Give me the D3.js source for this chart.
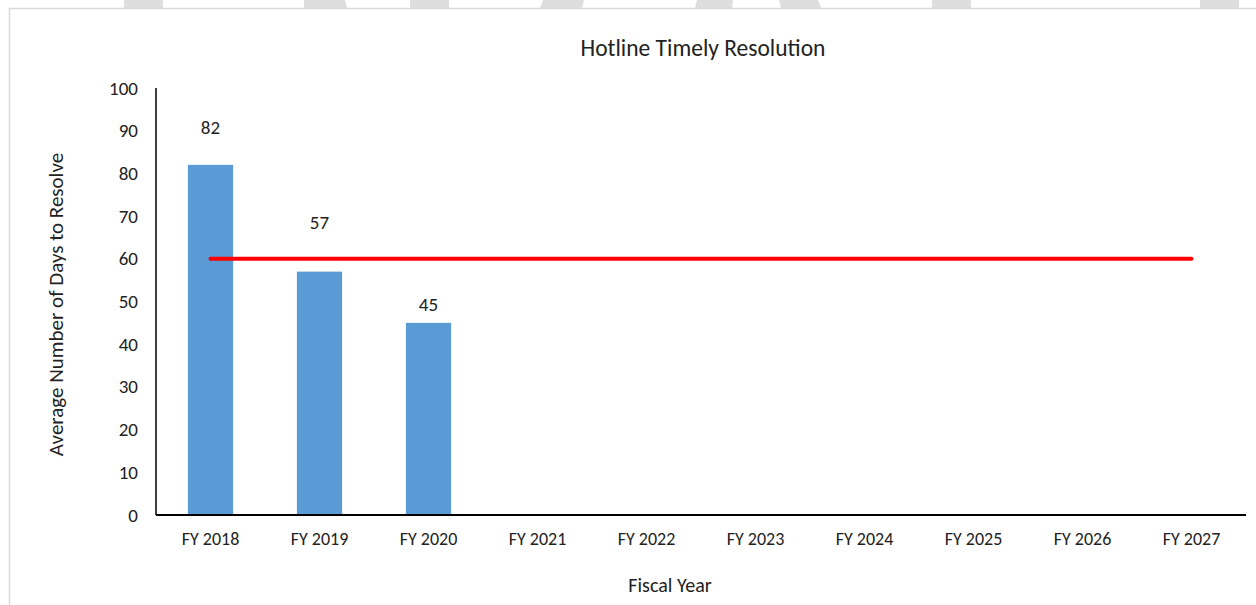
<!DOCTYPE html>
<html>
<head>
<meta charset="utf-8">
<script src="https://cdn.jsdelivr.net/npm/d3@7"></script>
<style>
  html, body { margin: 0; padding: 0; background: #fff; }
  svg { display: block; }
  text { font-family: Carlito, Calibri, Lato, "Open Sans", sans-serif; fill: #222; }
</style>
</head>
<body>
<svg id="chart" width="1256" height="605"></svg>
<script>
// Fiscal years on the category axis
const categories = ["FY 2018", "FY 2019", "FY 2020", "FY 2021", "FY 2022",
                    "FY 2023", "FY 2024", "FY 2025", "FY 2026", "FY 2027"];
// Average number of days to resolve a hotline case (only reported years)
const avgDays = [82, 57, 45, null, null, null, null, null, null, null];
// Target line across every fiscal year
const targetDays = [60, 60, 60, 60, 60, 60, 60, 60, 60, 60];
// Value axis ticks
const yTicks = [0, 10, 20, 30, 40, 50, 60, 70, 80, 90, 100];

const svg = d3.select("#chart");
const W = 1256, H = 605;

// Banner strip of light grey blocks along the very top edge
const banner = [
  [[124, 0], [163, 0], [163, 8], [124, 8]],
  [[304, 0], [345, 0], [347, 8], [304, 8]],
  [[410, 0], [449, 0], [449, 8], [410, 8]],
  [[543, 0], [584, 0], [582, 8], [540, 8]],
  [[697, 0], [733, 0], [732, 8], [695, 8]],
  [[779, 0], [818, 0], [821, 8], [781, 8]],
  [[932, 0], [971, 0], [971, 8], [932, 8]],
  [[1200, 0], [1239, 0], [1239, 8], [1200, 8]]
];
svg.selectAll("polygon.banner").data(banner).join("polygon")
  .attr("class", "banner")
  .attr("points", d => d.map(p => p.join(",")).join(" "))
  .attr("fill", "#dedede");

// Chart frame (top and left edges visible)
svg.append("path")
  .attr("d", `M9.5,${H} L9.5,8.5 L${W},8.5`)
  .attr("fill", "none")
  .attr("stroke", "#d9d9d9")
  .attr("stroke-width", 1.5);

const plot = { left: 156, right: 1246, top: 88, bottom: 515 };

const x = d3.scaleBand()
  .domain(categories)
  .range([plot.left, plot.right])
  .paddingInner(0.585)
  .paddingOuter(0.2925);

const xc = d3.scalePoint()
  .domain(categories)
  .range([plot.left, plot.right])
  .padding(0.5);

const y = d3.scaleLinear()
  .domain([0, 100])
  .range([plot.bottom, plot.top]);

// Title
svg.append("text")
  .attr("x", 703).attr("y", 56)
  .attr("text-anchor", "middle")
  .style("font-size", "23.5px")
  .text("Hotline Timely Resolution");

// Y axis labels
const yAxis = d3.axisLeft(y).tickValues(yTicks).tickSize(0).tickPadding(18);
const gy = svg.append("g").attr("transform", `translate(${plot.left},0)`).call(yAxis);
gy.select(".domain").remove();
gy.selectAll("text").style("font-size", "19px").attr("fill", "#222");

// X axis labels
const xAxis = d3.axisBottom(x).tickSize(0).tickPadding(17);
const gx = svg.append("g").attr("transform", `translate(0,${plot.bottom})`).call(xAxis);
gx.select(".domain").remove();
gx.selectAll("text").style("font-size", "18px").attr("fill", "#222");

// Bars
const barData = categories.map((c, i) => ({ cat: c, v: avgDays[i] })).filter(d => d.v != null);
svg.selectAll("rect.bar").data(barData).join("rect")
  .attr("class", "bar")
  .attr("x", d => x(d.cat))
  .attr("y", d => y(d.v))
  .attr("width", x.bandwidth())
  .attr("height", d => y(0) - y(d.v))
  .attr("fill", "#5b9bd5");

// Value labels, lifted clear of the target line
const labelLift = [31, 43, 12];
svg.selectAll("text.val").data(barData).join("text")
  .attr("class", "val")
  .attr("x", d => x(d.cat) + x.bandwidth() / 2)
  .attr("y", (d, i) => y(d.v) - labelLift[i])
  .attr("text-anchor", "middle")
  .style("font-size", "19px")
  .text(d => d.v);

// Axis lines
svg.append("line")
  .attr("x1", plot.left).attr("x2", plot.left)
  .attr("y1", plot.top).attr("y2", plot.bottom)
  .attr("stroke", "#000").attr("stroke-width", 1.5);
svg.append("line")
  .attr("x1", plot.left).attr("x2", plot.right)
  .attr("y1", plot.bottom).attr("y2", plot.bottom)
  .attr("stroke", "#000").attr("stroke-width", 2);

// Target line
const line = d3.line()
  .x((d, i) => xc(categories[i]))
  .y(d => y(d));
svg.append("path")
  .datum(targetDays)
  .attr("d", line)
  .attr("fill", "none")
  .attr("stroke", "#ff0000")
  .attr("stroke-width", 4)
  .attr("stroke-linecap", "round");

// Axis titles
svg.append("text")
  .attr("transform", `translate(63,${(plot.top + plot.bottom) / 2 + 3}) rotate(-90)`)
  .attr("text-anchor", "middle")
  .style("font-size", "21px")
  .text("Average Number of Days to Resolve");

svg.append("text")
  .attr("x", 670).attr("y", 592)
  .attr("text-anchor", "middle")
  .style("font-size", "20px")
  .text("Fiscal Year");
</script>
</body>
</html>
